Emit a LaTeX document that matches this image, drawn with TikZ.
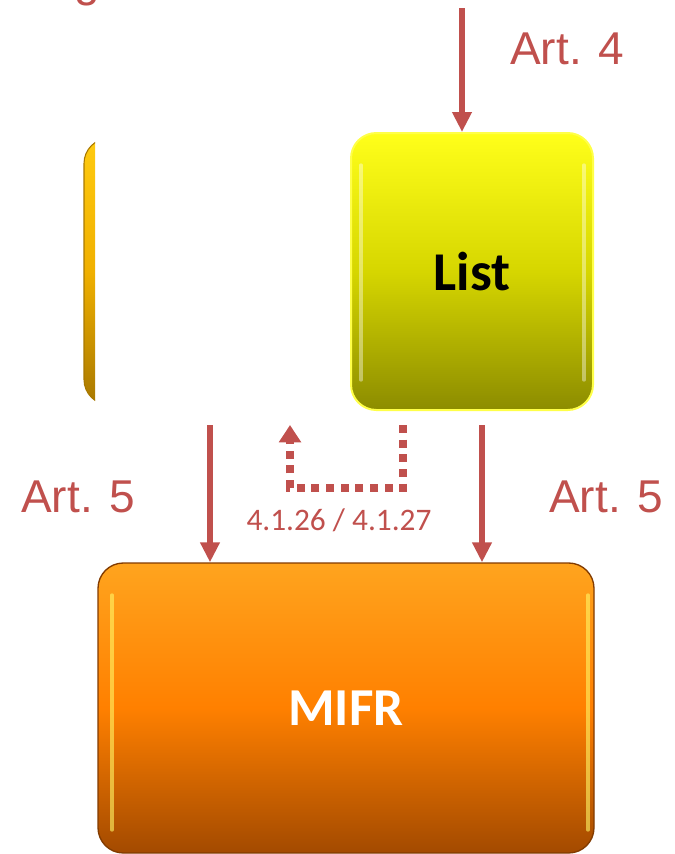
\documentclass[tikz,border=0pt]{standalone}
\usepackage{fontspec}
\setmainfont{Liberation Sans}
\newfontfamily\carlito{Carlito}
\usetikzlibrary{arrows.meta}
\definecolor{artred}{HTML}{C0504D}
\definecolor{ylTop}{HTML}{FFFF1A}
\definecolor{ylMid}{HTML}{D6D600}
\definecolor{ylBot}{HTML}{8C8C00}
\definecolor{orTop}{HTML}{FFA41E}
\definecolor{orMid}{HTML}{FF8000}
\definecolor{orBot}{HTML}{A34A00}
\definecolor{lfTop}{HTML}{FFCB10}
\definecolor{lfMid}{HTML}{F0B000}
\definecolor{lfBot}{HTML}{A87800}
\tikzset{
  artlabel/.style={text=artred, font=\fontsize{34.5pt}{36pt}\selectfont, inner sep=0pt},
  boxbase/.style={rounded corners=19pt, inner sep=0pt},
  listbox/.style={boxbase, draw=ylTop!80!white, line width=1.5pt, top color=ylTop, bottom color=ylBot, middle color=ylMid,
     minimum width=181.5pt, minimum height=207.75pt,
     font=\carlito\bfseries\fontsize{41pt}{43pt}\selectfont, text=black},
  mifrbox/.style={boxbase, draw=orBot!80!black, line width=1pt, top color=orTop, bottom color=orBot, middle color=orMid,
     minimum width=372pt, minimum height=217.5pt,
     font=\carlito\bfseries\fontsize{40pt}{42pt}\selectfont, text=white},
  leftbox/.style={boxbase, draw=lfBot, line width=0.8pt, top color=lfTop, bottom color=lfBot, middle color=lfMid,
     minimum width=181.5pt, minimum height=200pt},
  gloss/.style={draw=white, opacity=0.4, line width=2.5pt, line cap=round},
  yellowgloss/.style={draw=yellow!60!white, opacity=0.6, line width=2.5pt, line cap=round},
  mainarrow/.style={draw=artred, line width=3.8pt, -{Triangle[length=15pt, width=14pt]}},
  dotarrow/.style={draw=artred, line width=5.4pt, dash pattern=on 6pt off 5pt, line cap=butt,
     -{Triangle[length=13pt, width=16pt]}},
  dotlabel/.style={text=artred, font=\carlito\fontsize{23.5pt}{25pt}\selectfont, inner sep=0pt}
}
\begin{document}
\begin{tikzpicture}[x=0.75pt, y=-0.75pt]
\useasboundingbox (0,0) rectangle (675,854);

% partial letter at top-left edge
\node[artlabel, anchor=base] (gletter) at (87,-4) {g};

% left box, mostly hidden
\begin{scope}
  \clip (0,100) rectangle (95,420);
  \node[leftbox] (left) at (205,271.5) {};
\end{scope}

% List box
\node[listbox] (list) at (472,271.5) {List};
\draw[gloss] (361,165) -- (361,380);
\draw[gloss] (584,165) -- (584,380);

% MIFR box
\node[mifrbox] (mifr) at (346,708) {MIFR};
\draw[yellowgloss] (112,595) -- (112,830);
\draw[yellowgloss] (588,595) -- (588,830);

% arrows
\coordinate (topstart) at (462,8);
\draw[mainarrow] (topstart) -- (topstart |- list.north);
\node[artlabel, anchor=west] (art4) at (510,49) {Art. 4};

\coordinate (lstart) at (210,425);
\draw[mainarrow] (lstart) -- (lstart |- mifr.north);
\node[artlabel, anchor=west] (art5l) at (21,497) {Art. 5};

\coordinate (rstart) at (482,425);
\draw[mainarrow] (rstart) -- (rstart |- mifr.north);
\node[artlabel, anchor=west] (art5r) at (549,497) {Art. 5};

% dotted feedback arrow
\coordinate (dstart) at (403,425);
\coordinate (dend) at (290,425);
\draw[dotarrow] (dstart) -- ++(0,63) -| (dend);
\node[dotlabel] (ref) at (339,520) {4.1.26 / 4.1.27};
\end{tikzpicture}
\end{document}
